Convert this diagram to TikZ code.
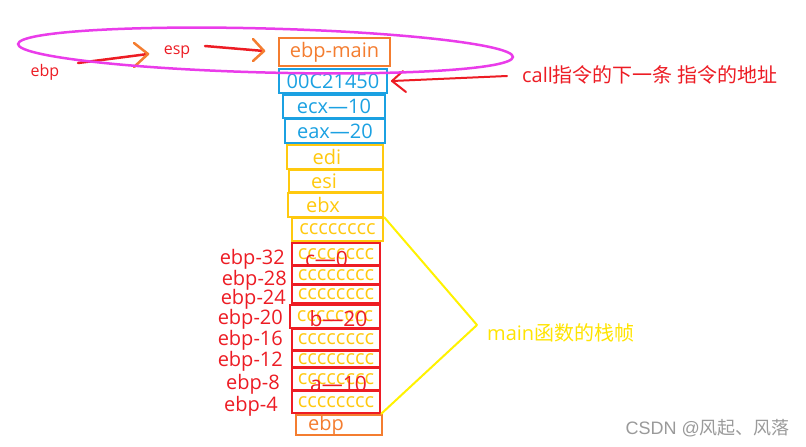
\documentclass[tikz,border=0pt]{standalone}
\usepackage{fontspec}
\setmainfont{Open Sans}
\newfontfamily\cjk{Noto Sans CJK SC}
\newfontfamily\wmfont{Liberation Sans}
\newcommand\myfs[1]{\fontsize{#1}{#1}\selectfont}
\definecolor{myorange}{HTML}{F47D30}
\definecolor{myblue}{HTML}{1BA1E2}
\definecolor{mygold}{HTML}{FFC90E}
\definecolor{myred}{HTML}{ED1C24}
\definecolor{myyellow}{HTML}{FFF200}
\definecolor{mainyellow}{HTML}{FFE400}
\definecolor{mymagenta}{HTML}{EA3CEA}
\definecolor{wmgray}{HTML}{9A9A9A}
\begin{document}
\begin{tikzpicture}[x=1pt,y=-1pt,
  box/.style={draw, line width=2pt, inner sep=0pt, font=\myfs{20}},
  ob/.style={box, draw=myorange, text=myorange},
  bb/.style={box, draw=myblue, text=myblue},
  gb/.style={box, draw=mygold, text=mygold},
  rb/.style={box, draw=myred, text=mygold, minimum width=88},
  lab/.style={text=myred, font=\myfs{20}, anchor=east, inner sep=0pt},
  over/.style={text=myred, font=\myfs{21}, inner sep=0pt},
  redline/.style={draw=myred, line width=2.5pt, line cap=round},
  chev/.style={draw=myorange, line width=2.5pt, line cap=round, line join=round},
  rchev/.style={draw=myred, line width=2pt, line cap=round, line join=round}
]
\useasboundingbox (0,0) rectangle (806,447);
\fill[white] (0,0) rectangle (806,447);

% stack boxes
\node[ob, minimum width=111, minimum height=28] (main) at (334.5,52) {ebp-main};
\node[bb, minimum width=108, minimum height=24] (ret) at (333,81) {00C21450};
\node[bb, minimum width=102, minimum height=23] (ecx) at (334,106.5) {ecx—10};
\node[bb, minimum width=100, minimum height=24] (eax) at (335,131) {eax—20};
\node[gb, minimum width=96, minimum height=24] (edi) at (335,157) {edi\hspace*{16pt}};
\node[gb, minimum width=94, minimum height=22] (esi) at (336,181) {esi\hspace*{24pt}};
\node[gb, minimum width=95, minimum height=24] (ebx) at (335.5,205) {ebx\hspace*{25pt}};
\node[gb, minimum width=91, minimum height=23] (c0) at (337.5,229.5) {cccccccc};
\node[rb, minimum height=22] (r1) at (336,254) {cccccccc};
\node[rb, minimum height=18] (r2) at (336,275) {cccccccc};
\node[rb, minimum height=18] (r3) at (336,294) {cccccccc};
\node[rb, minimum width=90, minimum height=23] (r4) at (335,316.5) {cccccccc};
\node[rb, minimum height=21] (r5) at (336,339.5) {cccccccc};
\node[rb, minimum height=16] (r6) at (336,359) {cccccccc};
\node[rb, minimum height=22] (r7) at (336,379) {cccccccc};
\node[rb, minimum height=22] (r8) at (336,402) {cccccccc};
\node[ob, minimum width=86, minimum height=20] (ebpb) at (339,425) {ebp\hspace*{26pt}};

% overlay variable labels
\node[over] (vc) at (326.5,259) {c—0};
\node[over] (vb) at (338.5,319) {b—20};
\node[over] (va) at (338.5,384) {a—10};

% offset labels
\node[lab] (l32) at (285,259) {ebp-32};
\node[lab] (l28) at (287,280) {ebp-28};
\node[lab] (l24) at (286,299) {ebp-24};
\node[lab] (l20) at (283,319) {ebp-20};
\node[lab] (l16) at (283,340) {ebp-16};
\node[lab] (l12) at (283,361) {ebp-12};
\node[lab] (l8) at (280,384) {ebp-8};
\node[lab] (l4) at (278,406) {ebp-4};

% frame bracket
\coordinate (apex) at (477,325);
\draw[myyellow, line width=2pt, line join=round] (c0.north east) -- (apex) -- (r8.south east);
\node[text=mainyellow, anchor=west, inner sep=0pt, font=\myfs{20}] (frame) at (487,333) {main{\cjk 函数的栈帧}};

% top labels and arrows
\node[text=myred, font=\myfs{16}, inner sep=0pt] (ebptxt) at (45,72) {ebp};
\node[text=myred, font=\myfs{16}, inner sep=0pt] (esptxt) at (177,52) {esp};
\coordinate (a1s) at (78,63);
\coordinate (a1e) at (148,54);
\draw[redline] (a1s) -- (a1e);
\draw[chev] ([shift={(-14,-11)}]a1e) -- (a1e) -- ([shift={(-14,13)}]a1e);
\coordinate (a2s) at (205,46);
\coordinate (a2e) at (264,51);
\draw[redline] (a2s) -- (a2e);
\draw[chev] ([shift={(-11,-12)}]a2e) -- (a2e) -- ([shift={(-11,10)}]a2e);

% call annotation
\node[text=myred, anchor=west, inner sep=0pt, font=\myfs{20}] (calltxt) at (522,75) {call{\cjk 指令的下一条 指令的地址}};
\coordinate (a3s) at (507,76);
\coordinate (a3e) at ([xshift=4]ret.east);
\draw[redline, line width=2pt] (a3s) -- (a3e);
\draw[rchev] ([shift={(11,-10)}]a3e) -- (a3e) -- ([shift={(14,11)}]a3e);

% ellipse
\draw[mymagenta, line width=2.5pt, rotate around={-1.5:(265.5,50.5)}] (265.5,50.5) ellipse [x radius=247.5, y radius=22];

% watermark
\node[text=wmgray, anchor=east, inner sep=0pt, font=\myfs{18}] (wm) at (790,428) {\wmfont CSDN @{\cjk 风起、风落}};
\end{tikzpicture}
\end{document}
